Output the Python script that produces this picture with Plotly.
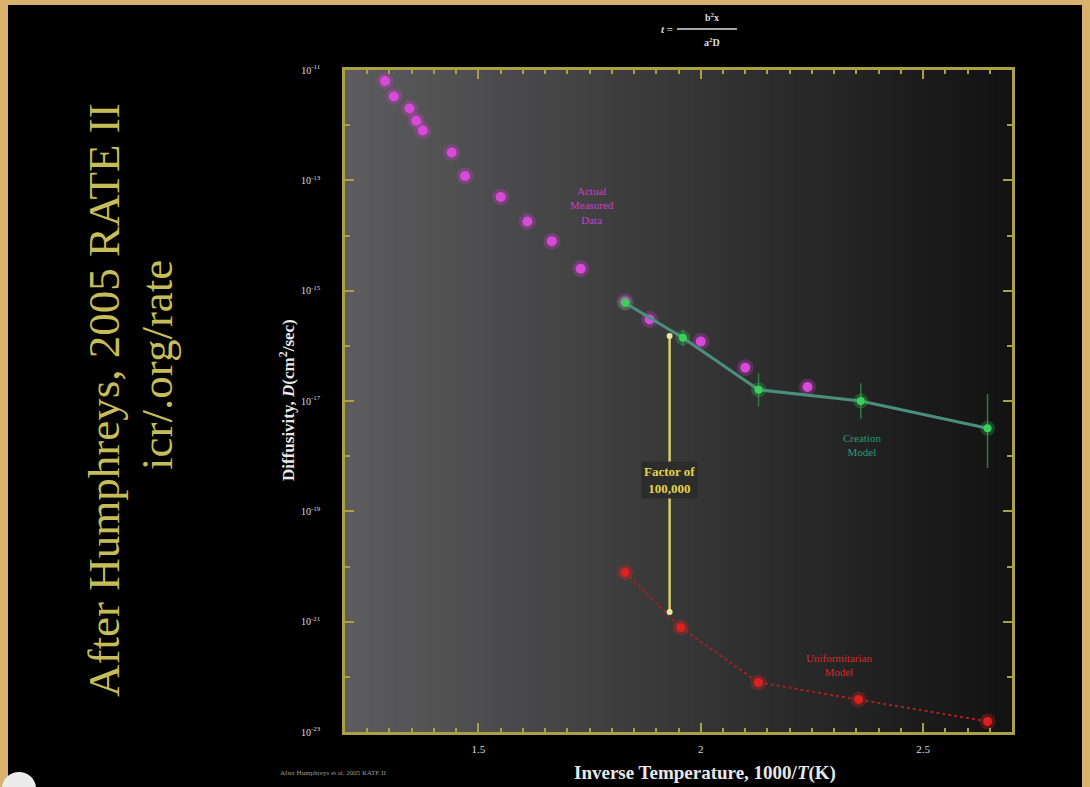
import plotly.graph_objects as go

W, H = 1090, 787

# ---------------- data ----------------
measured_x = [1.29, 1.31, 1.345, 1.36, 1.375, 1.44, 1.47, 1.55, 1.61, 1.665, 1.73, 1.83, 1.885, 2.00, 2.10, 2.24]
measured_D = [6.3e-12, 3.3e-12, 2.0e-12, 1.2e-12, 8.0e-13, 3.2e-13, 1.2e-13, 5.0e-14, 1.8e-14,
              7.9e-15, 2.5e-15, 6.3e-16, 3.0e-16, 1.2e-16, 4.0e-17, 1.8e-17]

creation_x = [1.83, 1.96, 2.13, 2.36, 2.645]
creation_D = [6.0e-16, 1.4e-16, 1.6e-17, 1.0e-17, 3.2e-18]
creation_err_up_dec = [0.05, 0.15, 0.30, 0.32, 0.62]   # error bar length, decades
creation_err_dn_dec = [0.05, 0.15, 0.30, 0.32, 0.72]

uniform_x = [1.83, 1.955, 2.13, 2.355, 2.645]
uniform_D = [7.8e-21, 7.8e-22, 7.9e-23, 3.9e-23, 1.55e-23]

factor_x = [1.93, 1.93]
factor_D = [1.5e-16, 1.5e-21]

x_tick_vals = [1.5, 2.0, 2.5]
x_tick_text = ["1.5", "2", "2.5"]
y_tick_exps = [-11, -13, -15, -17, -19, -21, -23]
y_minor_exps = [-12, -14, -16, -18, -20, -22]

# ---------------- styling ----------------
SERIF = "Liberation Serif, Times New Roman, serif"
FRAME = "#a9a142"
MAGENTA = "#cc3ccc"
GREEN = "#2fb84e"
GREEN_LINE = "#4a8f7c"
RED = "#dd2020"
TAN = "#d8b26c"

L, R, T, B = 345, 78, 70, 55
PW, PH = W - L - R, H - T - B


def px(xp):
    return (xp - L) / PW


def py(yp):
    return (H - B - yp) / PH


fig = go.Figure()

# glow + measured data
fig.add_trace(go.Scatter(x=measured_x, y=measured_D, mode="markers",
                         marker=dict(size=17, color=MAGENTA, opacity=0.3, line=dict(width=0)),
                         hoverinfo="skip", showlegend=False))
fig.add_trace(go.Scatter(x=measured_x, y=measured_D, mode="markers",
                         marker=dict(size=10, color="#d84ad8", line=dict(width=0)),
                         name="Actual Measured Data", showlegend=False))

# creation model
err_up = [d * (10 ** e - 1) for d, e in zip(creation_D, creation_err_up_dec)]
err_dn = [d * (1 - 10 ** (-e)) for d, e in zip(creation_D, creation_err_dn_dec)]
fig.add_trace(go.Scatter(x=creation_x, y=creation_D, mode="lines",
                         line=dict(color=GREEN_LINE, width=3),
                         error_y=dict(type="data", array=err_up, arrayminus=err_dn,
                                      color="#2f7a45", thickness=1.5, width=0),
                         hoverinfo="skip", showlegend=False))
fig.add_trace(go.Scatter(x=creation_x, y=creation_D, mode="markers",
                         marker=dict(size=15, color=GREEN, opacity=0.3, line=dict(width=0)),
                         hoverinfo="skip", showlegend=False))
fig.add_trace(go.Scatter(x=creation_x, y=creation_D, mode="markers",
                         marker=dict(size=8, color="#3ccf5c", line=dict(width=0)),
                         name="Creation Model", showlegend=False))

# uniformitarian model
fig.add_trace(go.Scatter(x=uniform_x, y=uniform_D, mode="lines",
                         line=dict(color="#a82020", width=2, dash="dot"),
                         hoverinfo="skip", showlegend=False))
fig.add_trace(go.Scatter(x=uniform_x, y=uniform_D, mode="markers",
                         marker=dict(size=16, color=RED, opacity=0.3, line=dict(width=0)),
                         hoverinfo="skip", showlegend=False))
fig.add_trace(go.Scatter(x=uniform_x, y=uniform_D, mode="markers",
                         marker=dict(size=9, color=RED, line=dict(width=0)),
                         name="Uniformitarian Model", showlegend=False))

# factor of 100,000 bar
fig.add_trace(go.Scatter(x=factor_x, y=factor_D, mode="lines+markers",
                         line=dict(color="#d6cc6a", width=2.5),
                         marker=dict(size=6, color="#ece6a0"),
                         hoverinfo="skip", showlegend=False))

# ---------------- shapes: slide + gradient plot background ----------------
shapes = [dict(type="rect", xref="paper", yref="paper", layer="below",
               x0=px(8), x1=px(1082), y0=py(800), y1=py(5),
               fillcolor="#000000", line=dict(width=0))]
n = 80
c0, c1 = (92, 92, 94), (18, 18, 18)
for i in range(n):
    t = i / (n - 1)
    c = tuple(int(round(a + (b - a) * t)) for a, b in zip(c0, c1))
    shapes.append(dict(type="rect", xref="paper", yref="paper", layer="below",
                       x0=i / n, x1=(i + 1) / n + 0.002, y0=0, y1=1,
                       fillcolor="rgb(%d,%d,%d)" % c, line=dict(width=0)))
# fraction bar of the formula
shapes.append(dict(type="line", xref="paper", yref="paper",
                   x0=px(677), x1=px(737), y0=py(29), y1=py(29),
                   line=dict(color="#dddddd", width=1.5)))
# white logo circle at bottom-left
shapes.append(dict(type="circle", xref="paper", yref="paper",
                   x0=px(2), x1=px(36), y0=py(805), y1=py(772),
                   fillcolor="#ececec", line=dict(width=0)))

# ---------------- annotations ----------------
ann = []


def paper_text(text, xp, yp, size, color, angle=0):
    ann.append(dict(text=text, xref="paper", yref="paper", x=px(xp), y=py(yp),
                    xanchor="center", yanchor="middle", textangle=angle, showarrow=False,
                    font=dict(family=SERIF, size=size, color=color)))


paper_text("After Humphreys, 2005 RATE II", 104, 400, 45, "#c6bd58", -90)
paper_text("icr/.org/rate", 157, 365, 45, "#c6bd58", -90)
paper_text("<b>Diffusivity, <i>D</i>(cm<sup>2</sup>/sec)</b>", 287, 400, 17, "#e8e8e8", -90)
paper_text("<b>Inverse Temperature, 1000/<i>T</i>(K)</b>", 705, 773, 19, "#e8e8e8")
paper_text("After Humphreys et al. 2005 RATE II", 333, 773, 7, "#9a9a9a")
paper_text("<b><i>t</i> =</b>", 667, 29, 11, "#dddddd")
paper_text("<b>b<sup>2</sup>x</b>", 712, 17, 10, "#dddddd")
paper_text("<b>a<sup>2</sup>D</b>", 712, 42, 10, "#dddddd")

ann.append(dict(text="Actual<br>Measured<br>Data", x=1.755, y=-13.45, showarrow=False,
                font=dict(family=SERIF, size=11, color="#c840c8")))
ann.append(dict(text="Creation<br>Model", x=2.363, y=-17.79, showarrow=False,
                font=dict(family=SERIF, size=11, color="#2a9a72")))
ann.append(dict(text="Uniformitarian<br>Model", x=2.31, y=-21.78, showarrow=False,
                font=dict(family=SERIF, size=11, color="#d42828")))
ann.append(dict(text="<b>Factor of<br>100,000</b>", x=1.93, y=-18.43, showarrow=False,
                bgcolor="#2c2c2c", borderpad=2,
                font=dict(family=SERIF, size=13, color="#e2d44a")))

fig.update_layout(
    width=W, height=H,
    margin=dict(l=L, r=R, t=T, b=B),
    paper_bgcolor=TAN,
    plot_bgcolor="rgba(0,0,0,0)",
    shapes=shapes,
    annotations=ann,
    showlegend=False,
    xaxis=dict(range=[1.2, 2.7], tickvals=x_tick_vals, ticktext=x_tick_text,
               ticks="inside", ticklen=9, tickwidth=1.5, tickcolor=FRAME,
               minor=dict(dtick=0.05, tick0=1.2, ticks="inside", ticklen=4, tickcolor=FRAME, tickwidth=1.5),
               showline=True, linecolor=FRAME, linewidth=2.5, mirror="allticks",
               showgrid=False, zeroline=False, ticklabelstandoff=5,
               tickfont=dict(family=SERIF, size=11, color="#dddddd")),
    yaxis=dict(type="log", range=[-23, -11],
               tickvals=[10.0 ** e for e in y_tick_exps],
               ticktext=["10<sup>%d</sup>" % e for e in y_tick_exps],
               ticks="inside", ticklen=9, tickwidth=1.5, tickcolor=FRAME,
               minor=dict(tickvals=[10.0 ** e for e in y_minor_exps], ticks="inside",
                          ticklen=5, tickcolor=FRAME, tickwidth=1.5),
               showline=True, linecolor=FRAME, linewidth=2.5, mirror="allticks",
               showgrid=False, zeroline=False, ticklabelstandoff=20,
               tickfont=dict(family=SERIF, size=10, color="#dddddd")),
)

fig.write_html("out.html",
               config={"displayModeBar": False},
               post_script="document.body.style.margin='0px';"
                           "document.body.style.background='%s';"
                           "document.body.style.overflow='hidden';" % TAN)
